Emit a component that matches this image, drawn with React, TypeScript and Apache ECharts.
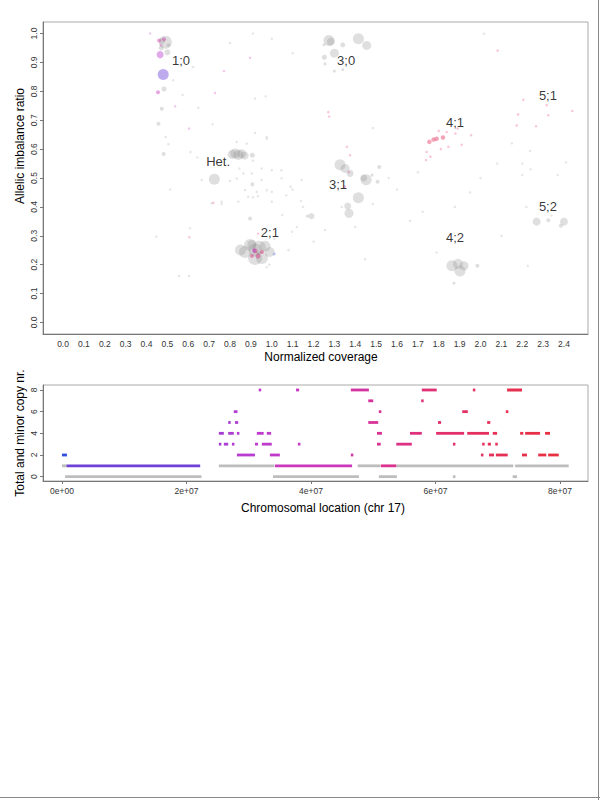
import React, { useEffect, useRef } from 'react';
import * as echarts from 'echarts';

// ---------- Top panel: allelic imbalance ratio vs normalized coverage ----------
// gray segment bubbles: [coverage, ratio, size]
const grayBubbles: number[][] = [
  [0.49, 0.97, 13], [0.475, 0.975, 6], [0.5, 0.935, 6], [0.484, 0.808, 5], [0.473, 0.74, 4],
  [0.457, 0.688, 4], [0.482, 0.583, 4], [0.47, 0.95, 5], [0.505, 0.96, 4],
  [1.274, 0.976, 11], [1.415, 0.982, 11], [1.455, 0.959, 9], [1.30, 0.932, 9], [1.34, 0.961, 5],
  [1.252, 0.918, 5], [1.255, 0.895, 3], [1.30, 0.87, 3], [1.34, 0.875, 3], [1.25, 0.961, 3], [1.283, 0.972, 8],
  [0.81, 0.582, 9], [0.825, 0.585, 10], [0.84, 0.58, 10], [0.855, 0.584, 9], [0.87, 0.578, 8],
  [0.907, 0.579, 5], [0.725, 0.496, 11], [0.907, 0.478, 4],
  [0.85, 0.251, 11], [0.872, 0.244, 12], [0.896, 0.268, 12], [0.92, 0.223, 14], [0.92, 0.251, 13],
  [0.953, 0.223, 12], [0.968, 0.264, 11], [0.99, 0.244, 10], [0.94, 0.26, 13], [0.905, 0.27, 9],
  [0.896, 0.36, 4], [1.19, 0.368, 6], [1.17, 0.368, 3],
  [1.327, 0.546, 11], [1.351, 0.533, 9], [1.375, 0.516, 7], [1.452, 0.494, 11], [1.44, 0.5, 7],
  [1.415, 0.432, 11], [1.364, 0.403, 7], [1.37, 0.378, 9], [1.515, 0.538, 4], [1.507, 0.487, 4], [1.48, 0.51, 3],
  [1.863, 0.196, 11], [1.892, 0.203, 10], [1.902, 0.178, 11], [1.921, 0.196, 9], [1.985, 0.196, 4], [1.873, 0.136, 3],
  [2.269, 0.349, 8], [2.325, 0.354, 4], [2.40, 0.349, 8], [2.385, 0.335, 4],
];

// tiny gray segments: [coverage, ratio]
const grayDots: number[][] = [
  [0.717, 0.686], [0.92, 0.656], [0.976, 0.636], [0.88, 0.619], [0.643, 0.571], [0.845, 0.533],
  [0.864, 0.516], [0.832, 0.498], [0.904, 0.516], [0.952, 0.533], [1.0, 0.527], [1.046, 0.527],
  [1.143, 0.493], [1.09, 0.47], [1.047, 0.499], [0.951, 0.493], [0.872, 0.458], [0.928, 0.452],
  [0.976, 0.458], [0.887, 0.435], [0.91, 0.433], [0.934, 0.437], [1.0, 0.452], [1.07, 0.44],
  [1.14, 0.42], [0.712, 0.412], [0.76, 0.418], [0.84, 0.418], [1.0, 0.418], [0.664, 0.493],
  [0.61, 0.59], [0.91, 0.56], [0.80, 0.49], [1.1, 0.46],
  [1.05, 0.372], [1.097, 0.314], [1.08, 0.251], [0.976, 0.191], [0.988, 0.2], [1.012, 0.29],
  [1.12, 0.33], [1.15, 0.40], [1.2, 0.28], [1.255, 0.32], [1.335, 0.40], [1.40, 0.33], [1.447, 0.219],
  [1.484, 0.41], [1.662, 0.352], [1.723, 0.383], [1.877, 0.40], [1.79, 0.242], [2.226, 0.196],
  [2.34, 0.37], [2.22, 0.40], [2.24, 0.53], [2.37, 0.51], [2.41, 0.554], [2.20, 0.51], [2.237, 0.594],
  [2.017, 0.999], [1.1, 0.932], [1.0, 0.982], [0.91, 1.0], [0.80, 0.967], [0.623, 0.884], [0.527, 0.838],
  [0.573, 0.788], [0.648, 0.743], [0.92, 0.775], [0.971, 0.783], [0.976, 0.642], [0.492, 0.642],
  [0.505, 0.617], [0.832, 0.625], [0.447, 0.297], [0.556, 0.161], [0.604, 0.161], [0.513, 0.46],
  [0.608, 0.326], [0.76, 0.41], [1.484, 0.673], [1.6, 0.46], [1.56, 0.5], [1.7, 0.52], [1.95, 0.45],
  [2.0, 0.5], [2.08, 0.55], [2.15, 0.62], [2.2, 0.55], [2.1, 0.3],
];

// coloured segments: [coverage, ratio, size, chromosomal position (Mb)]
const colorPoints: number[][] = [
  [0.48, 0.858, 11, 11], [0.465, 0.927, 7, 30], [0.455, 0.797, 4, 40], [0.46, 0.976, 4, 45],
  [0.484, 0.98, 4, 45], [0.47, 0.96, 3, 40],
  [0.92, 0.248, 5, 56], [0.934, 0.23, 5, 56], [0.953, 0.244, 4, 58], [0.905, 0.23, 4, 56],
  [0.915, 0.249, 4, 28], [1.012, 0.237, 3, 1],
  [0.417, 1.0, 2.5, 30], [0.896, 0.916, 2.5, 45], [0.771, 0.87, 2.5, 45], [0.728, 0.794, 2.5, 45],
  [0.537, 0.748, 2.5, 40], [0.604, 0.671, 2.5, 40], [0.605, 0.295, 2.5, 55], [0.72, 0.414, 2.5, 55],
  [0.935, 0.307, 2.5, 55], [2.082, 0.941, 2.5, 60], [1.271, 0.728, 2.5, 55], [1.275, 0.713, 2.5, 55],
  [1.36, 0.608, 2.5, 55], [1.375, 0.579, 2.5, 55], [1.35, 0.47, 3, 60], [1.37, 0.52, 2.5, 50],
  [1.755, 0.625, 4.5, 68], [1.775, 0.633, 4.5, 68], [1.79, 0.636, 4.5, 68], [1.82, 0.64, 4.5, 68],
  [1.838, 0.659, 2.5, 66], [1.88, 0.654, 2.5, 66], [1.955, 0.648, 2.5, 66], [1.89, 0.671, 2.5, 66],
  [1.80, 0.663, 2.5, 66], [1.742, 0.59, 2.5, 66], [1.846, 0.608, 2.5, 66], [1.81, 0.60, 2.5, 66],
  [1.739, 0.562, 2.5, 66], [1.76, 0.574, 2.5, 66], [1.91, 0.615, 2.5, 66],
  [2.205, 0.771, 2.5, 72], [2.317, 0.752, 2.5, 72], [2.325, 0.717, 2.5, 72], [2.44, 0.732, 2.5, 72],
  [2.266, 0.679, 2.5, 72], [2.173, 0.682, 2.5, 72], [2.18, 0.72, 2.5, 72],
];

// copy-number state labels
const stateNames = ['1;0', '3;0', 'Het.', '2;1', '3;1', '4;1', '5;1', '4;2', '5;2'];
const stateCov = [0.565, 1.356, 0.743, 0.991, 1.317, 1.878, 2.323, 1.878, 2.323];
const stateRatio = [0.907, 0.907, 0.558, 0.313, 0.479, 0.693, 0.786, 0.293, 0.401];

const covTicks = Array.from({ length: 25 }, (_, i) => i / 10);
const ratioTicks = [0, 0.1, 0.2, 0.3, 0.4, 0.5, 0.6, 0.7, 0.8, 0.9, 1.0];

// ---------- Bottom panel: copy numbers along chr 17 (positions in Mb) ----------
// total copy number: [start, end, copies]
const totalSegs: number[][] = [
  [0, 0.8, 2], [28.1, 31.0, 2], [33.4, 35.0, 2], [46.4, 46.7, 2], [67.3, 67.6, 2], [68.6, 69.4, 2],
  [69.7, 71.6, 2], [73.9, 74.7, 2], [76.5, 77.8, 2], [78.1, 79.8, 2],
  [0.75, 22.2, 1], [34.2, 46.6, 1], [51.2, 53.7, 1],
  [25.2, 25.5, 3], [26.0, 26.7, 3], [27.3, 27.6, 3], [31.0, 31.5, 3], [32.1, 33.7, 3], [37.9, 38.2, 3],
  [50.6, 51.2, 3], [53.7, 56.2, 3], [62.8, 63.1, 3], [67.5, 67.8, 3], [68.4, 68.9, 3], [69.6, 69.9, 3],
  [25.2, 26.0, 4], [26.7, 27.6, 4], [28.1, 28.4, 4], [31.3, 32.4, 4], [32.9, 33.6, 4], [50.6, 51.4, 4],
  [55.9, 57.8, 4], [60.1, 64.6, 4], [65.1, 68.6, 4], [69.2, 69.9, 4], [73.6, 74.1, 4], [74.4, 76.8, 4],
  [77.6, 78.4, 4],
  [26.7, 27.0, 5], [27.8, 28.3, 5], [49.2, 50.8, 5], [60.4, 60.9, 5], [68.3, 68.8, 5],
  [27.6, 28.2, 6], [50.9, 51.2, 6], [64.3, 65.2, 6], [71.3, 71.6, 6],
  [49.2, 50.0, 7], [57.7, 58.0, 7],
  [31.6, 32.0, 8], [37.6, 38.1, 8], [46.4, 49.3, 8], [57.8, 60.2, 8], [66.0, 66.2, 8], [71.5, 73.9, 8],
];
// minor copy number: [start, end, copies]
const minorSegs: number[][] = [
  [0, 0.8, 1], [25.2, 34.1, 1], [47.5, 51.1, 1], [53.7, 72.5, 1], [72.8, 81.4, 1],
  [0.5, 22.4, 0], [33.9, 47.7, 0], [50.9, 53.8, 0], [62.8, 63.0, 0], [72.4, 73.1, 0],
];
const locTicks = [0, 2e7, 4e7, 6e7, 8e7];
const cnTicks = [0, 2, 4, 6, 8];

// colour ramp along the chromosome (Mb -> rgb)
const RAMP: [number, number[]][] = [
  [0, [48, 80, 224]], [11, [108, 64, 214]], [22, [150, 62, 214]], [30, [186, 60, 208]],
  [40, [200, 56, 190]], [48, [212, 52, 160]], [56, [222, 48, 128]], [66, [228, 48, 96]], [82, [232, 48, 56]],
];
function rampColor(mb: number, alpha = 1): string {
  let c = RAMP[RAMP.length - 1][1];
  for (let i = 0; i < RAMP.length - 1; i++) {
    const [a, ca] = RAMP[i];
    const [b, cb] = RAMP[i + 1];
    if (mb <= b) {
      const t = Math.max(0, (mb - a) / (b - a));
      c = ca.map((v, k) => Math.round(v + (cb[k] - v) * t));
      break;
    }
  }
  return `rgba(${c[0]},${c[1]},${c[2]},${alpha})`;
}

const FONT = 'Liberation Sans, Arial, sans-serif';

function segRender(colored: boolean) {
  return (params: any, api: any) => {
    const s = api.value(0);
    const e = api.value(1);
    const v = api.value(2);
    const p1 = api.coord([s, v]);
    const p2 = api.coord([e, v]);
    const w = Math.max(p2[0] - p1[0], 2.5);
    const mid = (s + e) / 2 / 1e6;
    return {
      type: 'rect',
      shape: { x: p1[0], y: p1[1] - 1.4, width: w, height: 2.8 },
      style: { fill: colored ? rampColor(mid) : '#bdbdbd' },
    };
  };
}

export default function App() {
  const ref = useRef<HTMLDivElement>(null);
  useEffect(() => {
    if (!ref.current) return;
    const chart = echarts.init(ref.current, null, { renderer: 'svg' });
    const axisLine = { show: true, onZero: false, lineStyle: { color: '#777', width: 1 } };
    const lbl = { fontSize: 8.5, color: '#333', fontFamily: FONT };
    chart.setOption({
      animation: false,
      backgroundColor: '#fff',
      grid: [
        { left: 43, top: 22, right: 12, height: 312, show: true, borderColor: '#aaa', borderWidth: 1 },
        { left: 43, top: 385, right: 12, height: 96, show: true, borderColor: '#aaa', borderWidth: 1 },
      ],
      xAxis: [
        {
          gridIndex: 0, type: 'value', min: -0.096, max: 2.515,
          axisLine, axisTick: { show: false }, splitLine: { show: false },
          axisLabel: { ...lbl, margin: 5, customValues: covTicks, formatter: (v: number) => v.toFixed(1) },
        },
        {
          gridIndex: 1, type: 'value', min: -3.05e6, max: 8.45e7,
          axisLine, splitLine: { show: false },
          axisTick: { show: true, length: 3, customValues: locTicks, lineStyle: { color: '#777' } },
          axisLabel: {
            ...lbl, margin: 5, customValues: locTicks,
            formatter: (v: number) => v.toExponential(0).replace(/e([+-])(\d)$/, 'e$10$2'),
          },
        },
      ],
      yAxis: [
        {
          gridIndex: 0, type: 'value', min: -0.04, max: 1.04,
          axisLine, splitLine: { show: false },
          axisTick: { show: true, length: 3, customValues: ratioTicks, lineStyle: { color: '#777' } },
          axisLabel: { ...lbl, margin: 5, rotate: 90, customValues: ratioTicks, formatter: (v: number) => v.toFixed(1) },
        },
        {
          gridIndex: 1, type: 'value', min: -0.4, max: 8.46,
          axisLine, splitLine: { show: false },
          axisTick: { show: true, length: 3, customValues: cnTicks, lineStyle: { color: '#777' } },
          axisLabel: { ...lbl, margin: 5, rotate: 90, customValues: cnTicks },
        },
      ],
      series: [
        {
          type: 'scatter', xAxisIndex: 0, yAxisIndex: 0, data: grayDots,
          symbolSize: 2.5, itemStyle: { color: 'rgba(150,150,150,0.3)' },
        },
        {
          type: 'scatter', xAxisIndex: 0, yAxisIndex: 0, data: grayBubbles,
          symbolSize: (d: number[]) => d[2], itemStyle: { color: 'rgba(140,140,140,0.35)' },
        },
        {
          type: 'scatter', xAxisIndex: 0, yAxisIndex: 0, data: colorPoints,
          symbolSize: (d: number[]) => d[2],
          itemStyle: { color: (p: any) => rampColor(p.data[3], p.data[2] > 3 ? 0.55 : 0.35) },
        },
        {
          type: 'scatter', xAxisIndex: 0, yAxisIndex: 0, symbolSize: 0,
          data: stateNames.map((n, i) => ({ name: n, value: [stateCov[i], stateRatio[i]] })),
          label: {
            show: true, position: 'inside', formatter: (p: any) => p.name,
            fontSize: 13, color: '#000', fontFamily: FONT,
          },
        },
        {
          type: 'custom', xAxisIndex: 1, yAxisIndex: 1,
          data: minorSegs.map((d) => [d[0] * 1e6, d[1] * 1e6, d[2]]),
          renderItem: segRender(false), encode: { x: [0, 1], y: 2 },
        },
        {
          type: 'custom', xAxisIndex: 1, yAxisIndex: 1,
          data: totalSegs.map((d) => [d[0] * 1e6, d[1] * 1e6, d[2]]),
          renderItem: segRender(true), encode: { x: [0, 1], y: 2 },
        },
      ],
      graphic: [
        {
          type: 'text', x: 20, y: 146, rotation: Math.PI / 2,
          style: { text: 'Allelic imbalance ratio', fontSize: 12, fill: '#000', fontFamily: FONT, align: 'center', verticalAlign: 'middle' },
        },
        {
          type: 'text', x: 321, y: 357,
          style: { text: 'Normalized coverage', fontSize: 12, fill: '#000', fontFamily: FONT, align: 'center', verticalAlign: 'middle' },
        },
        {
          type: 'text', x: 20, y: 433, rotation: Math.PI / 2,
          style: { text: 'Total and minor copy nr.', fontSize: 12, fill: '#000', fontFamily: FONT, align: 'center', verticalAlign: 'middle' },
        },
        {
          type: 'text', x: 323, y: 508,
          style: { text: 'Chromosomal location (chr 17)', fontSize: 12, fill: '#000', fontFamily: FONT, align: 'center', verticalAlign: 'middle' },
        },
        { type: 'line', shape: { x1: 598.5, y1: 0, x2: 598.5, y2: 800 }, style: { stroke: '#888', lineWidth: 1 } },
        { type: 'line', shape: { x1: 0, y1: 797.5, x2: 600, y2: 797.5 }, style: { stroke: '#888', lineWidth: 1 } },
      ],
    });
    return () => chart.dispose();
  }, []);
  return <div ref={ref} style={{ position: 'absolute', left: 0, top: 0, width: 600, height: 800 }} />;
}
